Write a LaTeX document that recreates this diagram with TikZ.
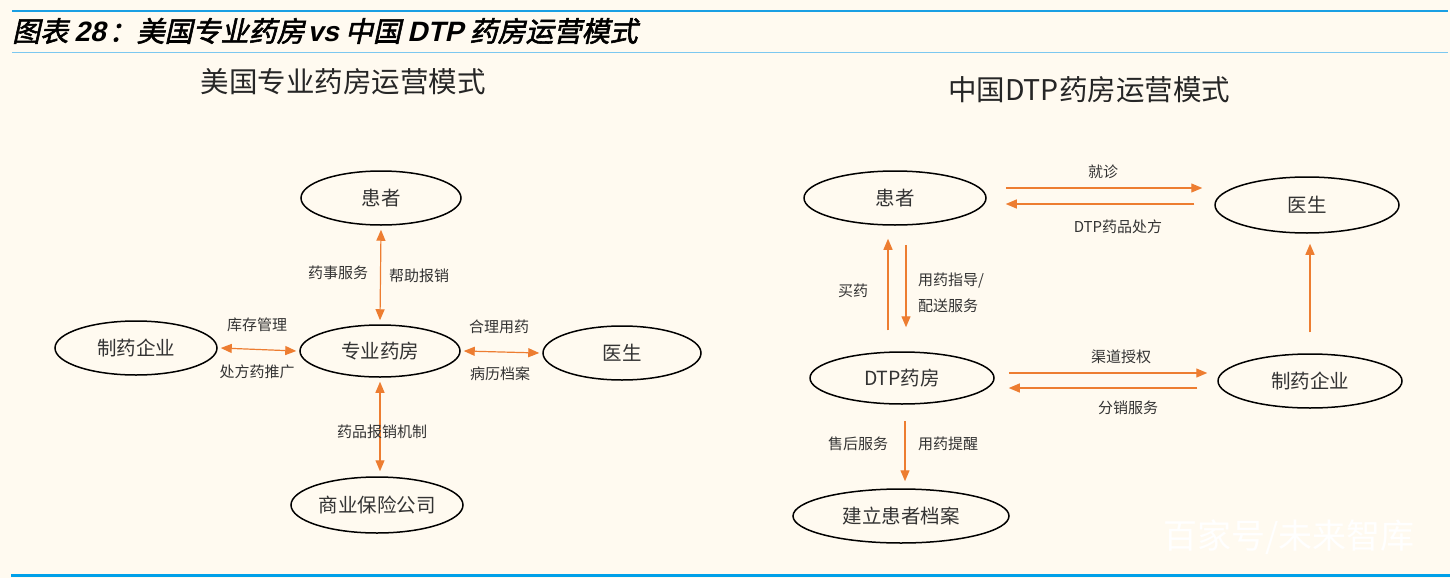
\documentclass[tikz,border=0pt]{standalone}
\usepackage{fontspec}
\usetikzlibrary{shapes.geometric,arrows.meta}
\newfontfamily\cjk{Noto Sans CJK SC}
\newfontfamily\cjktitle[FakeSlant=0.22,FakeBold=2]{Noto Sans CJK SC}
\newfontfamily\latbi[FakeSlant=0.22]{Liberation Sans Bold}
\definecolor{bg}{HTML}{FFFAF0}
\definecolor{arr}{HTML}{ED7D31}
\definecolor{blueA}{HTML}{1A9FE3}
\definecolor{blueB}{HTML}{7CC8F0}
\definecolor{blueC}{HTML}{00A0E9}
\definecolor{txt}{HTML}{333333}
\tikzset{
  ell/.style={ellipse, draw=black, line width=1.5pt, inner sep=0pt, text=txt,
    font=\cjk\fontsize{19.5}{19.5}\selectfont},
  con/.style={draw=arr, line width=1.2pt},
  tip/.tip={Triangle[length=11pt,width=9pt]},
  one/.style={con, -tip},
  two/.style={con, tip-tip},
  lab/.style={text=txt, inner sep=0pt, font=\cjk\fontsize{15}{15}\selectfont},
  dtitle/.style={text=black!85, inner sep=0pt, font=\cjk\fontsize{28.5}{28.5}\selectfont}
}
\begin{document}
\begin{tikzpicture}[x=1pt,y=-1pt]
\useasboundingbox (0,0) rectangle (1450,578);
\fill[bg] (0,0) rectangle (1450,578);
% frame lines
\draw[blueA, line width=2pt] (12,11) -- (1448,11);
\draw[blueB, line width=1.6pt] (12,52.5) -- (1448,52.5);
\draw[blueC, line width=2.4pt] (11,575.5) -- (1450,575.5);
% header
\node[anchor=west, inner sep=0pt] (hdr) at (12,31)
  {\cjktitle\fontsize{28}{28}\selectfont 图表 {\latbi 28}\hspace{3pt}：美国专业药房\hspace{3pt}{\latbi vs} 中国 {\latbi DTP} 药房运营模式};
% diagram titles
\node[dtitle] (tl) at (343,82) {美国专业药房运营模式};
\node[dtitle] (tr) at (1089,90) {中国DTP药房运营模式};

% ---------- left diagram ----------
\node[ell, minimum width=160pt, minimum height=54pt] (lp) at (381,198) {患者};
\node[ell, minimum width=160pt, minimum height=52pt] (lc) at (380,351) {专业药房};
\node[ell, minimum width=162pt, minimum height=54pt] (lm) at (136,348) {制药企业};
\node[ell, minimum width=158pt, minimum height=54pt] (ld) at (622,353) {医生};
\node[ell, minimum width=172pt, minimum height=56pt] (li) at (377,505) {商业保险公司};

\draw[two] ([yshift=-4pt]lp.south) -- ([yshift=4pt]lc.north);
\draw[two] ([xshift=3pt]lm.east) -- ([xshift=-3pt]lc.west);
\draw[two] ([xshift=3pt]lc.east) -- ([xshift=-3pt]ld.west);
\draw[two] ([yshift=-4pt]lc.south) -- ([yshift=5pt,xshift=3pt]li.north);

\node[lab] (l1) at (338,273) {药事服务};
\node[lab] (l2) at (419,276) {帮助报销};
\node[lab] (l3) at (257,325) {库存管理};
\node[lab] (l4) at (257,372) {处方药推广};
\node[lab] (l5) at (499,327) {合理用药};
\node[lab] (l6) at (500,374) {病历档案};
\node[lab] (l7) at (382,432) {药品报销机制};

% ---------- right diagram ----------
\node[ell, minimum width=182pt, minimum height=54pt] (rp) at (895,198) {患者};
\node[ell, minimum width=184pt, minimum height=56pt] (rd) at (1307,205) {医生};
\node[ell, minimum width=184pt, minimum height=52pt] (rt) at (902,378) {DTP药房};
\node[ell, minimum width=184pt, minimum height=54pt] (rm) at (1310,381) {制药企业};
\node[ell, minimum width=216pt, minimum height=54pt] (rr) at (901,516) {建立患者档案};

\draw[one] ([xshift=19pt,yshift=10pt]rp.east) -- ([xshift=-12pt,yshift=17pt]rd.west);
\draw[one] ([xshift=-20pt,yshift=1pt]rd.west) -- ([xshift=19pt,yshift=-6pt]rp.east);
\draw[one] ([xshift=-14pt,yshift=21pt]rt.north) -- ([xshift=-7pt,yshift=-13pt]rp.south);
\draw[one] ([xshift=11pt,yshift=-19pt]rp.south) -- ([xshift=4pt,yshift=24pt]rt.north);
\draw[one] ([xshift=14pt,yshift=5pt]rt.east) -- ([xshift=-10pt,yshift=8pt]rm.west);
\draw[one] ([xshift=-20pt,yshift=-7pt]rm.west) -- ([xshift=14pt,yshift=-10pt]rt.east);
\draw[one] ([yshift=21pt]rm.north) -- ([xshift=3pt,yshift=-10pt]rd.south);
\draw[one] ([xshift=3pt,yshift=-16pt]rt.south) -- ([xshift=4pt,yshift=7pt]rr.north);

\node[lab] (r1) at (1103,172) {就诊};
\node[lab] (r2) at (1118,227) {DTP药品处方};
\node[lab] (r3) at (853,291) {买药};
\node[lab, anchor=west] (r4) at (918,281) {用药指导/};
\node[lab, anchor=west] (r5) at (918,306) {配送服务};
\node[lab] (r6) at (1121,357) {渠道授权};
\node[lab] (r7) at (1128,408) {分销服务};
\node[lab] (r8) at (858,444) {售后服务};
\node[lab] (r9) at (948,444) {用药提醒};

% watermark
\node[text=white, inner sep=0pt, font=\cjk\fontsize{34}{34}\selectfont] (wm) at (1289,537) {百家号/未来智库};
\end{tikzpicture}
\end{document}
